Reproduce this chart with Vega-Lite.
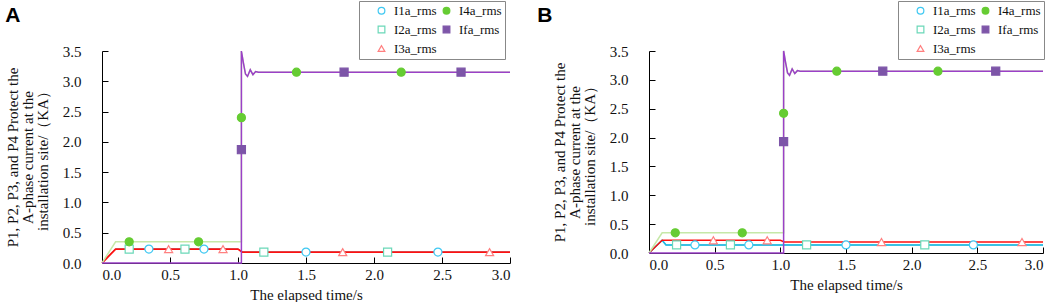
{
  "$schema": "https://vega.github.io/schema/vega-lite/v6.json",
  "padding": {"left": 5, "top": 0, "right": 5, "bottom": 0},
  "spacing": 23,
  "resolve": {
    "scale": {"fill": "independent", "stroke": "independent", "shape": "independent"},
    "legend": {"fill": "independent", "stroke": "independent", "shape": "independent"}
  },
  "config": {
    "view": {"stroke": null},
    "font": "Liberation Serif",
    "axis": {
      "labelFont": "Liberation Serif", "labelFontSize": 15, "labelColor": "#111", "labelOverlap": false,
      "titleFont": "Liberation Serif", "titleFontSize": 15, "titleFontWeight": "normal", "titleColor": "#111",
      "domainColor": "#000", "tickColor": "#000", "grid": false, "tickSize": -6
    },
    "legend": {
      "orient": "none", "columns": 2, "strokeColor": "#888", "fillColor": "white",
      "padding": 3, "columnPadding": 3, "rowPadding": 5, "symbolSize": 45, "symbolStrokeWidth": 1.2,
      "labelFont": "Liberation Serif", "labelFontSize": 13, "labelColor": "#111", "labelOffset": 6,
      "titleOrient": "left", "titlePadding": 13, "titleFontSize": 13, "titleFont": "Liberation Serif"
    },
    "title": {"font": "Liberation Sans", "fontSize": 21, "fontWeight": "bold", "color": "#000", "anchor": "start", "frame": "bounds"}
  },
  "datasets": {
    "lines": [
      {"panel": "A", "series": "I2a_rms", "i": 0, "t": 0, "v": 0},
      {"panel": "A", "series": "I2a_rms", "i": 1, "t": 0.1, "v": 0.23},
      {"panel": "A", "series": "I2a_rms", "i": 2, "t": 1.0, "v": 0.23},
      {"panel": "A", "series": "I2a_rms", "i": 3, "t": 1.03, "v": 0.18},
      {"panel": "A", "series": "I2a_rms", "i": 4, "t": 3.0, "v": 0.18},
      {"panel": "A", "series": "I1a_rms", "i": 0, "t": 0, "v": 0},
      {"panel": "A", "series": "I1a_rms", "i": 1, "t": 0.1, "v": 0.23},
      {"panel": "A", "series": "I1a_rms", "i": 2, "t": 1.0, "v": 0.23},
      {"panel": "A", "series": "I1a_rms", "i": 3, "t": 1.03, "v": 0.18},
      {"panel": "A", "series": "I1a_rms", "i": 4, "t": 3.0, "v": 0.18},
      {"panel": "A", "series": "I3a_rms", "i": 0, "t": 0, "v": 0},
      {"panel": "A", "series": "I3a_rms", "i": 1, "t": 0.1, "v": 0.23},
      {"panel": "A", "series": "I3a_rms", "i": 2, "t": 1.0, "v": 0.23},
      {"panel": "A", "series": "I3a_rms", "i": 3, "t": 1.03, "v": 0.18},
      {"panel": "A", "series": "I3a_rms", "i": 4, "t": 3.0, "v": 0.18},
      {"panel": "A", "series": "I4a_rms", "i": 0, "t": 0, "v": 0},
      {"panel": "A", "series": "I4a_rms", "i": 1, "t": 0.1, "v": 0.35},
      {"panel": "A", "series": "I4a_rms", "i": 2, "t": 1.025, "v": 0.35},
      {"panel": "A", "series": "I4a_rms", "i": 3, "t": 1.025, "v": 3.5},
      {"panel": "A", "series": "I4a_rms", "i": 4, "t": 1.04, "v": 3.3},
      {"panel": "A", "series": "I4a_rms", "i": 5, "t": 1.055, "v": 3.12},
      {"panel": "A", "series": "I4a_rms", "i": 6, "t": 1.07, "v": 3.08},
      {"panel": "A", "series": "I4a_rms", "i": 7, "t": 1.09, "v": 3.19},
      {"panel": "A", "series": "I4a_rms", "i": 8, "t": 1.11, "v": 3.11},
      {"panel": "A", "series": "I4a_rms", "i": 9, "t": 1.13, "v": 3.16},
      {"panel": "A", "series": "I4a_rms", "i": 10, "t": 1.15, "v": 3.15},
      {"panel": "A", "series": "I4a_rms", "i": 11, "t": 3.0, "v": 3.15},
      {"panel": "A", "series": "Ifa_rms", "i": 0, "t": 0, "v": 0},
      {"panel": "A", "series": "Ifa_rms", "i": 1, "t": 1.025, "v": 0},
      {"panel": "A", "series": "Ifa_rms", "i": 2, "t": 1.025, "v": 3.5},
      {"panel": "A", "series": "Ifa_rms", "i": 3, "t": 1.04, "v": 3.3},
      {"panel": "A", "series": "Ifa_rms", "i": 4, "t": 1.055, "v": 3.12},
      {"panel": "A", "series": "Ifa_rms", "i": 5, "t": 1.07, "v": 3.08},
      {"panel": "A", "series": "Ifa_rms", "i": 6, "t": 1.09, "v": 3.19},
      {"panel": "A", "series": "Ifa_rms", "i": 7, "t": 1.11, "v": 3.11},
      {"panel": "A", "series": "Ifa_rms", "i": 8, "t": 1.13, "v": 3.16},
      {"panel": "A", "series": "Ifa_rms", "i": 9, "t": 1.15, "v": 3.15},
      {"panel": "A", "series": "Ifa_rms", "i": 10, "t": 3.0, "v": 3.15},

      {"panel": "B", "series": "I2a_rms", "i": 0, "t": 0, "v": 0},
      {"panel": "B", "series": "I2a_rms", "i": 1, "t": 0.1, "v": 0.22},
      {"panel": "B", "series": "I2a_rms", "i": 2, "t": 0.13, "v": 0.14},
      {"panel": "B", "series": "I2a_rms", "i": 3, "t": 3.0, "v": 0.14},
      {"panel": "B", "series": "I1a_rms", "i": 0, "t": 0, "v": 0},
      {"panel": "B", "series": "I1a_rms", "i": 1, "t": 0.1, "v": 0.22},
      {"panel": "B", "series": "I1a_rms", "i": 2, "t": 0.13, "v": 0.14},
      {"panel": "B", "series": "I1a_rms", "i": 3, "t": 3.0, "v": 0.14},
      {"panel": "B", "series": "I3a_rms", "i": 0, "t": 0, "v": 0},
      {"panel": "B", "series": "I3a_rms", "i": 1, "t": 0.1, "v": 0.22},
      {"panel": "B", "series": "I3a_rms", "i": 2, "t": 1.0, "v": 0.22},
      {"panel": "B", "series": "I3a_rms", "i": 3, "t": 1.03, "v": 0.19},
      {"panel": "B", "series": "I3a_rms", "i": 4, "t": 3.0, "v": 0.19},
      {"panel": "B", "series": "I4a_rms", "i": 0, "t": 0, "v": 0},
      {"panel": "B", "series": "I4a_rms", "i": 1, "t": 0.1, "v": 0.35},
      {"panel": "B", "series": "I4a_rms", "i": 2, "t": 1.025, "v": 0.35},
      {"panel": "B", "series": "I4a_rms", "i": 3, "t": 1.025, "v": 3.5},
      {"panel": "B", "series": "I4a_rms", "i": 4, "t": 1.04, "v": 3.3},
      {"panel": "B", "series": "I4a_rms", "i": 5, "t": 1.055, "v": 3.12},
      {"panel": "B", "series": "I4a_rms", "i": 6, "t": 1.07, "v": 3.08},
      {"panel": "B", "series": "I4a_rms", "i": 7, "t": 1.09, "v": 3.19},
      {"panel": "B", "series": "I4a_rms", "i": 8, "t": 1.11, "v": 3.11},
      {"panel": "B", "series": "I4a_rms", "i": 9, "t": 1.13, "v": 3.16},
      {"panel": "B", "series": "I4a_rms", "i": 10, "t": 1.15, "v": 3.15},
      {"panel": "B", "series": "I4a_rms", "i": 11, "t": 3.0, "v": 3.15},
      {"panel": "B", "series": "Ifa_rms", "i": 0, "t": 0, "v": 0},
      {"panel": "B", "series": "Ifa_rms", "i": 1, "t": 1.025, "v": 0},
      {"panel": "B", "series": "Ifa_rms", "i": 2, "t": 1.025, "v": 3.5},
      {"panel": "B", "series": "Ifa_rms", "i": 3, "t": 1.04, "v": 3.3},
      {"panel": "B", "series": "Ifa_rms", "i": 4, "t": 1.055, "v": 3.12},
      {"panel": "B", "series": "Ifa_rms", "i": 5, "t": 1.07, "v": 3.08},
      {"panel": "B", "series": "Ifa_rms", "i": 6, "t": 1.09, "v": 3.19},
      {"panel": "B", "series": "Ifa_rms", "i": 7, "t": 1.11, "v": 3.11},
      {"panel": "B", "series": "Ifa_rms", "i": 8, "t": 1.13, "v": 3.16},
      {"panel": "B", "series": "Ifa_rms", "i": 9, "t": 1.15, "v": 3.15},
      {"panel": "B", "series": "Ifa_rms", "i": 10, "t": 3.0, "v": 3.15}
    ],
    "markers": [
      {"panel": "A", "series": "I2a_rms", "t": 0.2, "v": 0.23},
      {"panel": "A", "series": "I2a_rms", "t": 0.61, "v": 0.23},
      {"panel": "A", "series": "I2a_rms", "t": 1.19, "v": 0.18},
      {"panel": "A", "series": "I2a_rms", "t": 2.1, "v": 0.18},
      {"panel": "A", "series": "I1a_rms", "t": 0.345, "v": 0.23},
      {"panel": "A", "series": "I1a_rms", "t": 0.75, "v": 0.23},
      {"panel": "A", "series": "I1a_rms", "t": 1.5, "v": 0.18},
      {"panel": "A", "series": "I1a_rms", "t": 2.47, "v": 0.18},
      {"panel": "A", "series": "I3a_rms", "t": 0.49, "v": 0.23},
      {"panel": "A", "series": "I3a_rms", "t": 0.89, "v": 0.23},
      {"panel": "A", "series": "I3a_rms", "t": 1.77, "v": 0.18},
      {"panel": "A", "series": "I3a_rms", "t": 2.85, "v": 0.18},
      {"panel": "A", "series": "I4a_rms", "t": 0.2, "v": 0.35},
      {"panel": "A", "series": "I4a_rms", "t": 0.71, "v": 0.35},
      {"panel": "A", "series": "I4a_rms", "t": 1.025, "v": 2.4},
      {"panel": "A", "series": "I4a_rms", "t": 1.43, "v": 3.15},
      {"panel": "A", "series": "I4a_rms", "t": 2.2, "v": 3.15},
      {"panel": "A", "series": "Ifa_rms", "t": 1.025, "v": 1.87},
      {"panel": "A", "series": "Ifa_rms", "t": 1.78, "v": 3.15},
      {"panel": "A", "series": "Ifa_rms", "t": 2.64, "v": 3.15},

      {"panel": "B", "series": "I2a_rms", "t": 0.21, "v": 0.14},
      {"panel": "B", "series": "I2a_rms", "t": 0.62, "v": 0.14},
      {"panel": "B", "series": "I2a_rms", "t": 1.2, "v": 0.14},
      {"panel": "B", "series": "I2a_rms", "t": 2.1, "v": 0.14},
      {"panel": "B", "series": "I1a_rms", "t": 0.35, "v": 0.14},
      {"panel": "B", "series": "I1a_rms", "t": 0.76, "v": 0.14},
      {"panel": "B", "series": "I1a_rms", "t": 1.5, "v": 0.14},
      {"panel": "B", "series": "I1a_rms", "t": 2.47, "v": 0.14},
      {"panel": "B", "series": "I3a_rms", "t": 0.49, "v": 0.22},
      {"panel": "B", "series": "I3a_rms", "t": 0.9, "v": 0.22},
      {"panel": "B", "series": "I3a_rms", "t": 1.77, "v": 0.19},
      {"panel": "B", "series": "I3a_rms", "t": 2.84, "v": 0.19},
      {"panel": "B", "series": "I4a_rms", "t": 0.2, "v": 0.35},
      {"panel": "B", "series": "I4a_rms", "t": 0.71, "v": 0.35},
      {"panel": "B", "series": "I4a_rms", "t": 1.025, "v": 2.42},
      {"panel": "B", "series": "I4a_rms", "t": 1.43, "v": 3.15},
      {"panel": "B", "series": "I4a_rms", "t": 2.2, "v": 3.15},
      {"panel": "B", "series": "Ifa_rms", "t": 1.025, "v": 1.93},
      {"panel": "B", "series": "Ifa_rms", "t": 1.78, "v": 3.15},
      {"panel": "B", "series": "Ifa_rms", "t": 2.64, "v": 3.15}
    ]
  },
  "hconcat": [
    {
      "title": {"text": "A", "dy": 29},
      "width": 408,
      "height": 212,
      "encoding": {
        "x": {"field": "t", "type": "quantitative", "scale": {"domain": [0, 3]},
              "axis": {"values": [0, 0.5, 1, 1.5, 2, 2.5, 3], "format": ".1f", "title": "The elapsed time/s", "labelPadding": 10, "titlePadding": 5}},
        "y": {"field": "v", "type": "quantitative", "scale": {"domain": [0, 3.5]},
              "axis": {"values": [0, 0.5, 1, 1.5, 2, 2.5, 3, 3.5], "format": ".1f", "labelPadding": 27, "titlePadding": 12,
                       "title": ["P1, P2, P3, and P4 Protect the", "A-phase current at the", "installation site/（KA）"], "titleLineHeight": 15}}
      },
      "layer": [
        {"data": {"name": "lines"}, "transform": [{"filter": "datum.panel === 'A' && datum.series === 'I2a_rms'"}],
         "mark": {"type": "line", "strokeWidth": 1, "color": "#6fe0c0"}, "encoding": {"order": {"field": "i", "type": "quantitative"}}},
        {"data": {"name": "lines"}, "transform": [{"filter": "datum.panel === 'A' && datum.series === 'I1a_rms'"}],
         "mark": {"type": "line", "strokeWidth": 1, "color": "#1fb5ea"}, "encoding": {"order": {"field": "i", "type": "quantitative"}}},
        {"data": {"name": "lines"}, "transform": [{"filter": "datum.panel === 'A' && datum.series === 'I3a_rms'"}],
         "mark": {"type": "line", "strokeWidth": 1.8, "color": "#ff1010"}, "encoding": {"order": {"field": "i", "type": "quantitative"}}},
        {"data": {"name": "lines"}, "transform": [{"filter": "datum.panel === 'A' && datum.series === 'I4a_rms'"}],
         "mark": {"type": "line", "strokeWidth": 1.5, "color": "#c6e8a8"}, "encoding": {"order": {"field": "i", "type": "quantitative"}}},
        {"data": {"name": "lines"}, "transform": [{"filter": "datum.panel === 'A' && datum.series === 'Ifa_rms'"}],
         "mark": {"type": "line", "strokeWidth": 1.5, "color": "#9b40c8"}, "encoding": {"order": {"field": "i", "type": "quantitative"}}},
        {
          "data": {"name": "markers"},
          "transform": [{"filter": "datum.panel === 'A'"}],
          "mark": {"type": "point", "size": 65, "strokeWidth": 1.2, "opacity": 1},
          "encoding": {
            "fill": {"field": "series", "type": "nominal",
                     "scale": {"domain": ["I1a_rms", "I2a_rms", "I3a_rms", "I4a_rms", "Ifa_rms"], "range": ["white", "white", "white", "#66cc33", "#7d55a8"]},
                     "legend": {"title": " ", "legendX": 257, "legendY": -50}},
            "stroke": {"field": "series", "type": "nominal",
                       "scale": {"domain": ["I1a_rms", "I2a_rms", "I3a_rms", "I4a_rms", "Ifa_rms"], "range": ["#3ec8f2", "#6ad8b8", "#ff8080", "#66cc33", "#7d55a8"]},
                       "legend": {"title": " ", "legendX": 257, "legendY": -50}},
            "shape": {"field": "series", "type": "nominal",
                      "scale": {"domain": ["I1a_rms", "I2a_rms", "I3a_rms", "I4a_rms", "Ifa_rms"], "range": ["circle", "square", "triangle-up", "circle", "square"]},
                      "legend": {"title": " ", "legendX": 257, "legendY": -50}}
          }
        }
      ]
    },
    {
      "title": {"text": "B", "dy": 29, "dx": -15},
      "width": 394,
      "height": 202,
      "encoding": {
        "x": {"field": "t", "type": "quantitative", "scale": {"domain": [0, 3]},
              "axis": {"values": [0, 0.5, 1, 1.5, 2, 2.5, 3], "format": ".1f", "title": "The elapsed time/s", "labelPadding": 10, "titlePadding": 5}},
        "y": {"field": "v", "type": "quantitative", "scale": {"domain": [0, 3.5]},
              "axis": {"values": [0, 0.5, 1, 1.5, 2, 2.5, 3, 3.5], "format": ".1f", "labelPadding": 27, "titlePadding": 12,
                       "title": ["P1, P2, P3, and P4 Protect the", "A-phase current at the", "installation site/（KA）"], "titleLineHeight": 15}}
      },
      "layer": [
        {"data": {"name": "lines"}, "transform": [{"filter": "datum.panel === 'B' && datum.series === 'I2a_rms'"}],
         "mark": {"type": "line", "strokeWidth": 1.5, "color": "#6fe0c0"}, "encoding": {"order": {"field": "i", "type": "quantitative"}}},
        {"data": {"name": "lines"}, "transform": [{"filter": "datum.panel === 'B' && datum.series === 'I1a_rms'"}],
         "mark": {"type": "line", "strokeWidth": 1.5, "color": "#1fb5ea"}, "encoding": {"order": {"field": "i", "type": "quantitative"}}},
        {"data": {"name": "lines"}, "transform": [{"filter": "datum.panel === 'B' && datum.series === 'I3a_rms'"}],
         "mark": {"type": "line", "strokeWidth": 1.5, "color": "#ff1010"}, "encoding": {"order": {"field": "i", "type": "quantitative"}}},
        {"data": {"name": "lines"}, "transform": [{"filter": "datum.panel === 'B' && datum.series === 'I4a_rms'"}],
         "mark": {"type": "line", "strokeWidth": 1.5, "color": "#c6e8a8"}, "encoding": {"order": {"field": "i", "type": "quantitative"}}},
        {"data": {"name": "lines"}, "transform": [{"filter": "datum.panel === 'B' && datum.series === 'Ifa_rms'"}],
         "mark": {"type": "line", "strokeWidth": 1.5, "color": "#9b40c8"}, "encoding": {"order": {"field": "i", "type": "quantitative"}}},
        {
          "data": {"name": "markers"},
          "transform": [{"filter": "datum.panel === 'B'"}],
          "mark": {"type": "point", "size": 65, "strokeWidth": 1.2, "opacity": 1},
          "encoding": {
            "fill": {"field": "series", "type": "nominal",
                     "scale": {"domain": ["I1a_rms", "I2a_rms", "I3a_rms", "I4a_rms", "Ifa_rms"], "range": ["white", "white", "white", "#66cc33", "#7d55a8"]},
                     "legend": {"title": " ", "legendX": 249, "legendY": -50}},
            "stroke": {"field": "series", "type": "nominal",
                       "scale": {"domain": ["I1a_rms", "I2a_rms", "I3a_rms", "I4a_rms", "Ifa_rms"], "range": ["#3ec8f2", "#6ad8b8", "#ff8080", "#66cc33", "#7d55a8"]},
                       "legend": {"title": " ", "legendX": 249, "legendY": -50}},
            "shape": {"field": "series", "type": "nominal",
                      "scale": {"domain": ["I1a_rms", "I2a_rms", "I3a_rms", "I4a_rms", "Ifa_rms"], "range": ["circle", "square", "triangle-up", "circle", "square"]},
                      "legend": {"title": " ", "legendX": 249, "legendY": -50}}
          }
        }
      ]
    }
  ]
}
